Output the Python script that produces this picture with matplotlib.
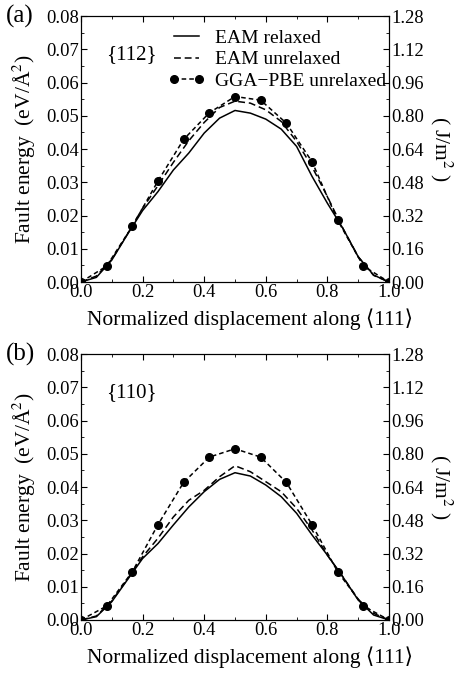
import matplotlib.pyplot as plt
import numpy as np
from matplotlib.ticker import MultipleLocator, FormatStrFormatter

plt.rcParams['font.family'] = ['Liberation Serif', 'DejaVu Serif']
plt.rcParams['mathtext.fontset'] = 'stix'

# EAM curves, read every 0.05 along the path
x_eam = [0.0, 0.05, 0.1, 0.15, 0.2, 0.25, 0.3, 0.35, 0.4, 0.45, 0.5,
         0.55, 0.6, 0.65, 0.7, 0.75, 0.8, 0.85, 0.9, 0.95, 1.0]
relaxed_112 = [0.0, 0.0014, 0.0066, 0.0142, 0.0215, 0.0272, 0.0337, 0.0388, 0.0448, 0.0493, 0.0516,
               0.0508, 0.0490, 0.0460, 0.0408, 0.0318, 0.0237, 0.0162, 0.0076, 0.0021, 0.0]
unrelaxed_112 = [0.0, 0.0018, 0.0068, 0.0143, 0.0222, 0.0290, 0.0360, 0.0425, 0.0480, 0.0525, 0.0544,
                 0.0538, 0.0518, 0.0483, 0.0423, 0.0347, 0.0257, 0.0162, 0.0076, 0.0020, 0.0]
relaxed_110 = [0.0, 0.0010, 0.0055, 0.0120, 0.0185, 0.0230, 0.0286, 0.0340, 0.0386, 0.0423, 0.0443,
               0.0433, 0.0406, 0.0371, 0.0321, 0.0256, 0.0195, 0.0130, 0.0060, 0.0015, 0.0]
unrelaxed_110 = [0.0, 0.0012, 0.0057, 0.0122, 0.0190, 0.0246, 0.0310, 0.0360, 0.0390, 0.0431, 0.0464,
                 0.0446, 0.0416, 0.0386, 0.0336, 0.0271, 0.0195, 0.0130, 0.0062, 0.0020, 0.0]

# GGA-PBE points at k/12
x_gga = [0, 1/12, 2/12, 3/12, 4/12, 5/12, 6/12, 7/12, 8/12, 9/12, 10/12, 11/12, 1]
gga_112 = [0.0, 0.0048, 0.0168, 0.0304, 0.0429, 0.0509, 0.0558, 0.0547, 0.0478, 0.0362, 0.0186, 0.0048, 0.0]
gga_110 = [0.0, 0.0042, 0.0145, 0.0287, 0.0414, 0.0490, 0.0515, 0.0490, 0.0414, 0.0287, 0.0145, 0.0042, 0.0]

panels = [('(a)', '{112}', relaxed_112, unrelaxed_112, gga_112),
          ('(b)', '{110}', relaxed_110, unrelaxed_110, gga_110)]

fig = plt.figure(figsize=(4.54, 6.75), dpi=100)
positions = [[0.1784, 0.5822, 0.6784, 0.394], [0.1784, 0.0815, 0.6784, 0.394]]

fs = 13.3
lab = 15.5
for i, (tag, plane, rel, unrel, gga) in enumerate(panels):
    ax = fig.add_axes(positions[i])
    ax.plot(x_eam, rel, color='black', lw=1.1, label='EAM relaxed')
    ax.plot(x_eam, unrel, color='black', lw=1.1, dashes=(4.5, 2.5), label='EAM unrelaxed')
    ax.plot(x_gga, gga, color='black', lw=1.1, dashes=(3, 2), marker='o', markersize=5.5,
            label='GGA\u2212PBE unrelaxed')
    ax.set_xlim(0, 1)
    ax.set_ylim(0, 0.08)
    ax.xaxis.set_major_locator(MultipleLocator(0.2))
    ax.xaxis.set_minor_locator(MultipleLocator(0.1))
    ax.yaxis.set_major_locator(MultipleLocator(0.01))
    ax.yaxis.set_minor_locator(MultipleLocator(0.005))
    ax.xaxis.set_major_formatter(FormatStrFormatter('%.1f'))
    ax.yaxis.set_major_formatter(FormatStrFormatter('%.2f'))
    ax.tick_params(which='both', direction='in', top=True, right=False, labelsize=fs, pad=1.5)
    ax.tick_params(which='major', length=4)
    ax.tick_params(which='minor', length=2)
    ax.set_xlabel('Normalized displacement along \u27e8111\u27e9', fontsize=lab, va='center')
    ax.xaxis.set_label_coords(0.549, -0.139)
    ax.set_ylabel('Fault energy  (eV/\u00c5$^2$)', fontsize=lab, va='center')
    ax.yaxis.set_label_coords(-0.185, 0.5)
    ax.text(0.08, 0.855, plane, transform=ax.transAxes, fontsize=15, va='center')
    ax.text(-0.245, 1.0, tag, transform=ax.transAxes, fontsize=18, va='center')

    ax2 = ax.twinx()
    ax2.set_ylim(0, 1.28)
    ax2.yaxis.set_major_locator(MultipleLocator(0.16))
    ax2.yaxis.set_minor_locator(MultipleLocator(0.08))
    ax2.yaxis.set_major_formatter(FormatStrFormatter('%.2f'))
    ax2.tick_params(which='both', direction='in', labelsize=fs, pad=1.5)
    ax2.tick_params(which='major', length=4)
    ax2.tick_params(which='minor', length=2)
    ax2.set_ylabel('( J/m$^2$ )', fontsize=lab, rotation=-90, va='center', ha='center')
    ax2.yaxis.set_label_coords(1.169, 0.5)

    if i == 0:
        ax.legend(loc='upper right', frameon=False, fontsize=14, numpoints=2,
                  handlelength=1.9, handletextpad=0.5, labelspacing=0.2,
                  borderaxespad=0.0, borderpad=0.0, bbox_to_anchor=(0.99, 0.95))

fig.savefig('out.png', dpi=100)
